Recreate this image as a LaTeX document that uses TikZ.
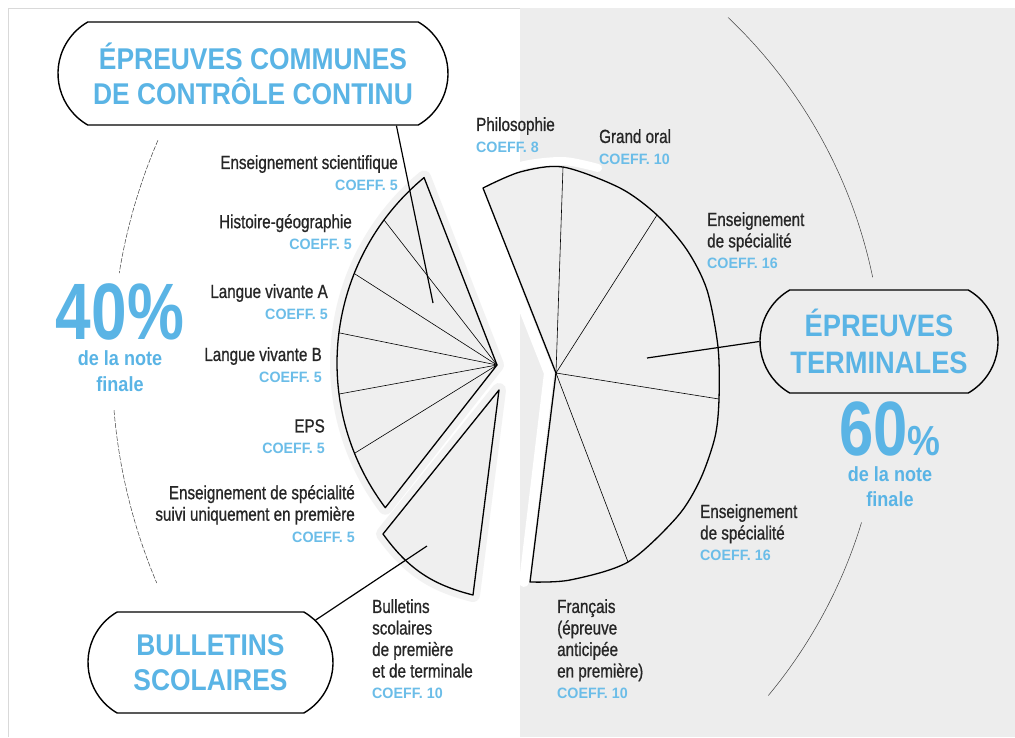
\documentclass[tikz,border=0pt]{standalone}
\usepackage{fontspec}
\setmainfont{Liberation Sans}
\newfontfamily\labelfont{Liberation Sans}[FakeStretch=0.80,FakeBold=0.8]
\newfontfamily\coefffont{Liberation Sans}[FakeStretch=0.95]
\newfontfamily\titlefont{Liberation Sans}[FakeStretch=0.88]
\newfontfamily\pctfont{Liberation Sans}[FakeStretch=0.80]
\usetikzlibrary{shapes.misc,calc}
\definecolor{bleu}{HTML}{5AB4E5}
\definecolor{bleuclair}{HTML}{6BBDE8}
\definecolor{fond}{HTML}{EDEDED}
\definecolor{grispart}{HTML}{EFEFEF}
\definecolor{halo}{HTML}{F2F2F2}
\newcommand{\coeff}[1]{{\coefffont\bfseries\fontsize{15}{21.5}\selectfont\color{bleuclair}COEFF.~#1}}
\tikzset{
  matiere/.style={font=\labelfont\fontsize{19}{21.5}\selectfont,text=black!85,inner sep=0pt},
  gauche/.style={matiere,align=right,anchor=north east},
  droite/.style={matiere,align=left,anchor=north west},
  bulle/.style={rounded rectangle,rounded rectangle arc length=120,draw,line width=1.4pt,
    inner sep=0pt,text=bleu,align=center},
  part/.style={text=bleu,inner sep=0pt,anchor=north,align=center},
  lien/.style={line width=1.2pt},
  secteur/.style={fill=grispart,draw=black,line width=1.3pt,line join=round},
  trait/.style={line width=0.6pt},
  repere/.style={line width=0.5pt,black!75},
}
\begin{document}
\begin{tikzpicture}[x=1pt,y=-1pt]
\useasboundingbox (0,0) rectangle (1015,737);
% fonds
\fill[white] (0,0) rectangle (1015,737);
\fill[fond] (520,8) rectangle (1015,737);
\draw[black!15,line width=0.6pt] (8,737) -- (8,8) -- (520,8);

% grands arcs
\coordinate (ga) at (675,363);
\coordinate (gd) at (386,378);
\draw[repere,dash pattern=on 5pt off 1.5pt] ([shift={(-156.7:563)}]ga) arc[start angle=-156.7,end angle=-170.8,radius=563];
\draw[repere,dash pattern=on 5pt off 1.5pt] ([shift={(175.2:563)}]ga) arc[start angle=175.2,end angle=157,radius=563];
\draw[repere] ([shift={(-46.5:497)}]gd) arc[start angle=-46.5,end angle=-11.7,radius=497];
\draw[repere] ([shift={(16.9:497)}]gd) arc[start angle=16.9,end angle=39.7,radius=497];

% controle continu et bulletins
\coordinate (cs) at (497,365);
\coordinate (cc) at (578,363);
\coordinate (bs) at (499,390);
\coordinate (bg) at (383,534);
\coordinate (bd) at (473,595);
\draw[halo,line width=14pt,line join=round] (cs) -- ([shift={(-129.7:241)}]cc)
  arc[start angle=-129.7,end angle=-216.9,radius=241] -- cycle;
\draw[halo,line width=14pt,line join=round] (bs) -- (bg) to[bend right=20] (bd) -- cycle;
\draw[secteur] (cs) -- ([shift={(-129.7:241)}]cc)
  arc[start angle=-129.7,end angle=-216.9,radius=241] -- cycle;
\foreach \a in {-143.6,-158.2,-172.8,-187.4,-202}
  \draw[trait] (cs) -- ([shift={(\a:241)}]cc);
\draw[secteur] (bs) -- (bg) to[bend right=20] (bd) -- cycle;

% epreuves terminales
\coordinate (ts) at (556,373);
\coordinate (t0) at (483,188);
\coordinate (t1) at (563,167);
\coordinate (t2) at (657,215);
\coordinate (t3) at (719,399);
\coordinate (t4) at (628,562);
\coordinate (t5) at (530,582);
\draw[white,line width=10pt,line join=round,line cap=round] ([xshift=-7pt]t0) -- ([xshift=-7pt]ts) -- ([xshift=-6pt]t5);
\draw[white,line width=8pt,line cap=round] plot[smooth] coordinates {(487,182) (520,166) (563,161) (598,168)};
\draw[secteur] (ts) -- plot[smooth] coordinates {(t0) (520,172) (t1) (620,188) (t2) (687,250) (707,290)
  (718,347) (t3) (715,437) (700,480) (677,517) (t4) (570,580) (t5)} -- cycle;
\foreach \p in {t1,t2,t3,t4}
  \draw[trait] (ts) -- (\p);

% matieres
\node[gauche] (sci) at (398,155) {Enseignement scientifique\\\coeff{5}};
\node[gauche] (hist) at (352,214) {Histoire-géographie\\\coeff{5}};
\node[gauche] (lva) at (328,284) {Langue vivante A\\\coeff{5}};
\node[gauche] (lvb) at (322,347) {Langue vivante B\\\coeff{5}};
\node[gauche] (eps) at (325,419) {EPS\\\coeff{5}};
\node[gauche] (spe1) at (355,485) {Enseignement de spécialité\\suivi uniquement en première\\\coeff{5}};
\node[droite] (bull) at (372,599) {Bulletins\\scolaires\\de première\\et de terminale\\\coeff{10}};
\node[droite] (philo) at (476,117) {Philosophie\\\coeff{8}};
\node[droite] (oral) at (599,129) {Grand oral\\\coeff{10}};
\node[droite] (spe2) at (707,212) {Enseignement\\de spécialité\\\coeff{16}};
\node[droite] (spe3) at (700,504) {Enseignement\\de spécialité\\\coeff{16}};
\node[droite] (fr) at (557,599) {Français\\(épreuve\\anticipée\\en première)\\\coeff{10}};

% bulles
\node[bulle,minimum width=390pt,minimum height=103pt,font=\titlefont\bfseries\fontsize{30}{35}\selectfont]
  (communes) at (253,73.5) {ÉPREUVES COMMUNES\\DE CONTRÔLE CONTINU};
\node[bulle,minimum width=238pt,minimum height=103pt,font=\titlefont\bfseries\fontsize{31}{37}\selectfont]
  (terminales) at (879,341.5) {ÉPREUVES\\TERMINALES};
\node[bulle,minimum width=245pt,minimum height=101pt,font=\titlefont\bfseries\fontsize{30}{35}\selectfont]
  (bulletins) at (210.5,662.5) {BULLETINS\\SCOLAIRES};
\coordinate (ccfin) at (433,303);
\coordinate (tefin) at (647,358);
\coordinate (bsfin) at (427,546);
\draw[lien] (communes.340) -- (ccfin);
\draw[lien] (terminales.west) -- (tefin);
\draw[lien] (bulletins.22) -- (bsfin);

% pourcentages
\node[part,font=\titlefont\bfseries\fontsize{20.5}{26}\selectfont] (pct40) at (120,283)
  {{\pctfont\fontsize{80}{80}\selectfont 40\%}\\de la note\\finale};
\node[part,font=\titlefont\bfseries\fontsize{20.5}{25.5}\selectfont] (pct60) at (890,402)
  {{\pctfont\fontsize{77}{77}\selectfont 60{\titlefont\fontsize{42}{42}\selectfont\%}}\\de la note\\finale};
\end{tikzpicture}
\end{document}
